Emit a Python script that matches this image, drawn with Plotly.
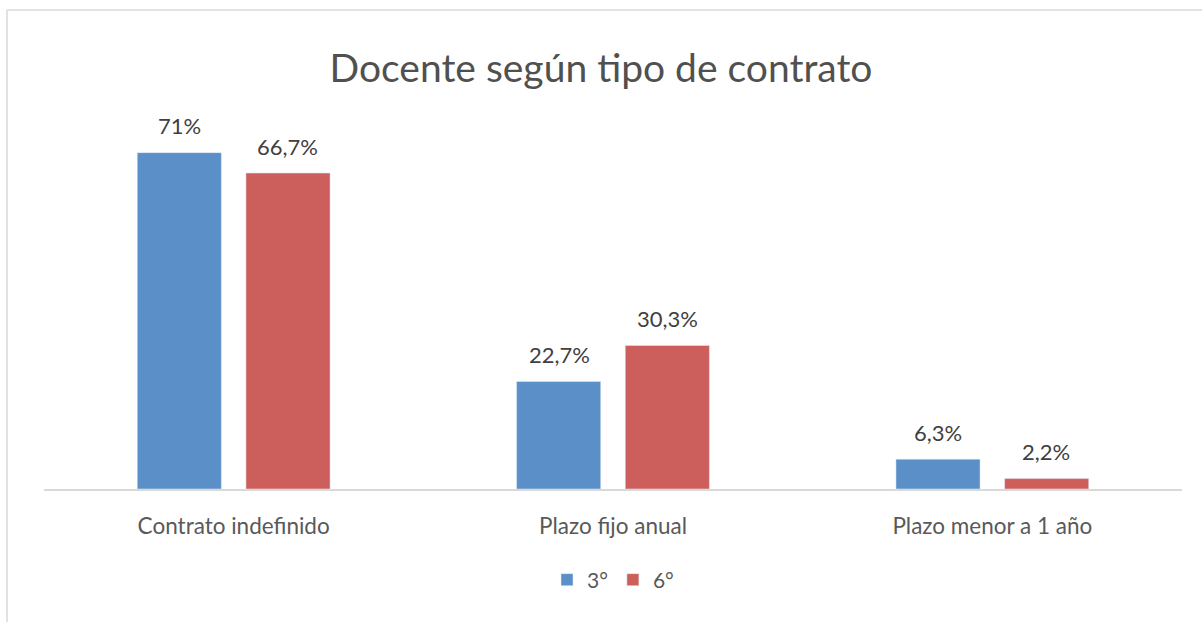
import plotly.graph_objects as go

categories = ["Contrato indefinido", "Plazo fijo anual", "Plazo menor a 1 año"]
series_names = ["3°", "6°"]
values_3 = [71.0, 22.7, 6.3]
values_6 = [66.7, 30.3, 2.2]
labels_3 = ["71%", "22,7%", "6,3%"]
labels_6 = ["66,7%", "30,3%", "2,2%"]
colors = ["#5B8FC7", "#CC5F5B"]

FONT = "Lato, Open Sans, sans-serif"
W, H = 1202, 622
ML, MR, MT, MB = 44, 20, 110, 133

fig = go.Figure()
series = [(series_names[0], values_3, labels_3, colors[0]),
          (series_names[1], values_6, labels_6, colors[1])]
for i, (name, vals, labs, col) in enumerate(series):
    fig.add_trace(go.Bar(
        x=categories, y=vals, name=name, marker_color=col,
        offsetgroup=str(i), hoverinfo="x+y",
    ))

fig.update_layout(
    width=W, height=H,
    paper_bgcolor="white", plot_bgcolor="white",
    barmode="group", bargap=0.427, bargroupgap=0.226,
    margin=dict(l=ML, r=MR, t=MT, b=MB, autoexpand=False),
    title=dict(text="Docente según tipo de contrato", x=0.5, xanchor="center",
               y=1 - 68 / H, yanchor="middle",
               font=dict(family=FONT, size=39, color="#505050")),
    xaxis=dict(showline=True, linecolor="#D9D9D9", linewidth=1.5, ticks="",
               ticklabelstandoff=16,
               tickfont=dict(family=FONT, size=22.5, color="#595959"), showgrid=False),
    yaxis=dict(visible=False, range=[0, 80], showgrid=False),
    legend=dict(orientation="h", x=0.5, xanchor="center",
                yref="container", y=1 - 580 / H, yanchor="middle",
                font=dict(family=FONT, size=21, color="#595959"),
                itemwidth=30, traceorder="normal"),
    showlegend=True,
)

# data labels above bars, positioned from the data via the axes
for i, (name, vals, labs, col) in enumerate(series):
    xshift = -54 if i == 0 else 54
    for cat, v, lab in zip(categories, vals, labs):
        fig.add_annotation(x=cat, y=v, xref="x", yref="y", text=lab,
                           showarrow=False, xshift=xshift, yshift=27,
                           yanchor="middle",
                           font=dict(family=FONT, size=22, color="#404040"))

# chart frame (left and top edges visible in the reference)
pw, ph = W - ML - MR, H - MT - MB
fx0 = -37 / pw
fy1 = (H - 10 - MB) / ph
fig.add_shape(type="line", xref="paper", yref="paper",
              x0=fx0, x1=fx0, y0=-MB / ph, y1=fy1,
              line=dict(color="#D9D9D9", width=1.5))
fig.add_shape(type="line", xref="paper", yref="paper",
              x0=fx0, x1=(W - ML) / pw, y0=fy1, y1=fy1,
              line=dict(color="#D9D9D9", width=1.5))
fig.write_html("out.html", config={"displayModeBar": False},
               post_script="document.body.style.margin='0';document.body.style.padding='0';")
